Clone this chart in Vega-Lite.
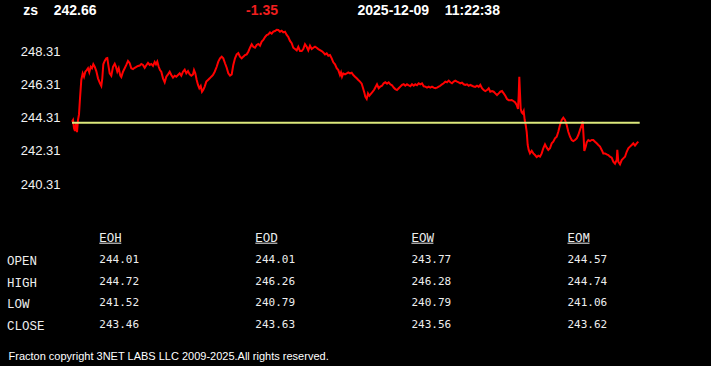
{
  "$schema": "https://vega.github.io/schema/vega-lite/v6.json",
  "width": 711,
  "height": 366,
  "autosize": "none",
  "padding": 0,
  "background": "#000000",
  "config": {
    "view": {"stroke": null},
    "axis": {"grid": false, "domain": false, "ticks": false, "tickSize": 0, "title": null}
  },
  "datasets": {
    "prices": [
      {"t":0,"price":244.08},{"t":1,"price":244.18},{"t":2,"price":243.68},{"t":3,"price":243.52},{"t":4,"price":243.98},{"t":5,"price":243.44},{"t":6,"price":244.18},{"t":7,"price":244.52},{"t":8,"price":245.49},{"t":9.3,"price":246.6},{"t":10.7,"price":247.0},{"t":12,"price":246.8},{"t":13.3,"price":247.1},{"t":14.7,"price":247.2},{"t":16,"price":247.31},{"t":17.3,"price":247.06},{"t":18.7,"price":247.4},{"t":20,"price":247.31},{"t":21.3,"price":247.55},{"t":22.7,"price":247.4},{"t":24.3,"price":247.14},{"t":26,"price":246.7},{"t":28,"price":246.4},{"t":29.3,"price":246.24},{"t":30.3,"price":246.7},{"t":31.3,"price":247.55},{"t":32.7,"price":247.75},{"t":34.3,"price":247.91},{"t":35.3,"price":247.93},{"t":36.3,"price":247.51},{"t":37.7,"price":247.0},{"t":39.3,"price":246.86},{"t":41,"price":247.4},{"t":42.7,"price":247.58},{"t":44,"price":247.39},{"t":45.3,"price":247.1},{"t":46.7,"price":247.31},{"t":48.3,"price":246.86},{"t":49.3,"price":246.78},{"t":51,"price":247.1},{"t":52.7,"price":247.31},{"t":54.3,"price":247.51},{"t":56,"price":247.75},{"t":57.7,"price":247.61},{"t":59.3,"price":247.31},{"t":61,"price":247.26},{"t":62.7,"price":247.34},{"t":64.3,"price":247.39},{"t":66,"price":247.45},{"t":67.7,"price":247.47},{"t":69.3,"price":247.57},{"t":71,"price":247.51},{"t":72.7,"price":247.34},{"t":74.3,"price":247.49},{"t":76,"price":247.63},{"t":77.7,"price":247.51},{"t":79.3,"price":247.57},{"t":81,"price":247.45},{"t":82.7,"price":247.69},{"t":84,"price":247.55},{"t":85.3,"price":247.71},{"t":86.7,"price":247.4},{"t":88,"price":247.2},{"t":89.3,"price":247.1},{"t":91,"price":246.7},{"t":92.7,"price":246.46},{"t":94.3,"price":246.8},{"t":96,"price":246.94},{"t":97.7,"price":247.1},{"t":99.3,"price":246.9},{"t":101,"price":246.74},{"t":102.7,"price":246.86},{"t":104.3,"price":246.8},{"t":106,"price":246.9},{"t":107.7,"price":247.0},{"t":109.3,"price":246.86},{"t":111,"price":247.1},{"t":112.7,"price":247.22},{"t":114.3,"price":247.0},{"t":116,"price":247.14},{"t":117.7,"price":246.94},{"t":119.3,"price":246.86},{"t":121,"price":246.94},{"t":122,"price":247.2},{"t":123.3,"price":247.0},{"t":124.7,"price":246.6},{"t":126,"price":246.3},{"t":127.3,"price":246.1},{"t":128.7,"price":246.24},{"t":130,"price":245.89},{"t":131.3,"price":246.01},{"t":132.7,"price":246.2},{"t":134.3,"price":246.5},{"t":136,"price":246.6},{"t":137.7,"price":246.7},{"t":139.3,"price":246.8},{"t":141,"price":246.9},{"t":142.7,"price":247.1},{"t":144.7,"price":247.4},{"t":146.3,"price":247.71},{"t":148,"price":247.91},{"t":149.7,"price":248.01},{"t":151.3,"price":247.91},{"t":153,"price":247.61},{"t":154.7,"price":247.34},{"t":156.3,"price":247.0},{"t":158,"price":246.86},{"t":159.7,"price":246.94},{"t":161.3,"price":247.51},{"t":163,"price":247.91},{"t":164.7,"price":248.15},{"t":166.3,"price":248.23},{"t":168,"price":248.01},{"t":169.7,"price":247.91},{"t":171.3,"price":248.01},{"t":173,"price":248.11},{"t":174.7,"price":248.15},{"t":176.3,"price":248.31},{"t":178,"price":248.55},{"t":179.7,"price":248.76},{"t":181.3,"price":248.61},{"t":183,"price":248.55},{"t":184.7,"price":248.72},{"t":186.3,"price":248.78},{"t":188,"price":248.67},{"t":189.7,"price":248.92},{"t":191.3,"price":249.02},{"t":193,"price":249.2},{"t":194.7,"price":249.32},{"t":196.3,"price":249.36},{"t":198,"price":249.48},{"t":199.7,"price":249.4},{"t":201.3,"price":249.52},{"t":203,"price":249.56},{"t":204.7,"price":249.64},{"t":206.3,"price":249.62},{"t":208,"price":249.52},{"t":209.7,"price":249.58},{"t":211.3,"price":249.48},{"t":213,"price":249.52},{"t":214.7,"price":249.32},{"t":216.3,"price":249.2},{"t":218,"price":248.96},{"t":219.7,"price":248.82},{"t":221.3,"price":248.55},{"t":223,"price":248.47},{"t":224.7,"price":248.39},{"t":226.3,"price":248.61},{"t":228,"price":248.35},{"t":229.7,"price":248.35},{"t":231.3,"price":248.47},{"t":233,"price":248.76},{"t":234.7,"price":248.61},{"t":236.3,"price":248.39},{"t":238,"price":248.67},{"t":239.7,"price":248.47},{"t":241.3,"price":248.55},{"t":243,"price":248.61},{"t":244.7,"price":248.55},{"t":246.3,"price":248.47},{"t":248,"price":248.41},{"t":249.7,"price":248.35},{"t":251.3,"price":248.27},{"t":253,"price":248.15},{"t":254.7,"price":248.21},{"t":256.3,"price":248.07},{"t":258,"price":248.11},{"t":259.7,"price":247.91},{"t":261.3,"price":247.67},{"t":263,"price":247.55},{"t":264.7,"price":247.31},{"t":266.3,"price":247.2},{"t":268,"price":246.9},{"t":269,"price":247.06},{"t":270,"price":246.8},{"t":271.3,"price":247.0},{"t":273,"price":246.94},{"t":274.7,"price":247.0},{"t":276.3,"price":247.06},{"t":278,"price":247.0},{"t":279.7,"price":247.04},{"t":281.3,"price":246.9},{"t":283,"price":246.8},{"t":284.7,"price":246.7},{"t":286.3,"price":246.6},{"t":288,"price":246.5},{"t":289.7,"price":246.38},{"t":291,"price":246.12},{"t":292.3,"price":245.85},{"t":293.3,"price":245.59},{"t":294.7,"price":245.45},{"t":296,"price":245.79},{"t":297.3,"price":245.65},{"t":299.3,"price":245.79},{"t":300.7,"price":245.89},{"t":302,"price":245.99},{"t":303.3,"price":246.14},{"t":305,"price":246.34},{"t":306.7,"price":246.1},{"t":308.3,"price":246.2},{"t":310,"price":246.25},{"t":311.7,"price":246.4},{"t":313.3,"price":246.46},{"t":315,"price":246.38},{"t":316.7,"price":246.46},{"t":318.3,"price":246.34},{"t":320,"price":246.28},{"t":321.7,"price":246.14},{"t":323.3,"price":246.05},{"t":325,"price":245.99},{"t":326.7,"price":246.1},{"t":328.3,"price":246.2},{"t":330,"price":246.3},{"t":331.7,"price":246.34},{"t":333.3,"price":246.25},{"t":335,"price":246.34},{"t":336.7,"price":246.28},{"t":338.3,"price":246.22},{"t":340,"price":246.34},{"t":341.7,"price":246.25},{"t":343.3,"price":246.34},{"t":345,"price":246.28},{"t":346.7,"price":246.4},{"t":348.3,"price":246.34},{"t":350,"price":246.4},{"t":351.7,"price":246.22},{"t":353.3,"price":246.2},{"t":355,"price":246.14},{"t":356.7,"price":246.2},{"t":358.3,"price":246.14},{"t":360,"price":246.2},{"t":361.7,"price":246.14},{"t":363.3,"price":246.1},{"t":365,"price":246.14},{"t":366.7,"price":246.2},{"t":368.3,"price":246.25},{"t":370,"price":246.34},{"t":371.7,"price":246.4},{"t":373.3,"price":246.5},{"t":375,"price":246.46},{"t":376.7,"price":246.56},{"t":378.3,"price":246.46},{"t":380,"price":246.4},{"t":381.7,"price":246.5},{"t":383.3,"price":246.56},{"t":385,"price":246.5},{"t":386.7,"price":246.46},{"t":388.3,"price":246.4},{"t":390,"price":246.44},{"t":391.7,"price":246.34},{"t":393.3,"price":246.3},{"t":395,"price":246.34},{"t":396.7,"price":246.25},{"t":398.3,"price":246.3},{"t":400,"price":246.25},{"t":401.7,"price":246.2},{"t":403.3,"price":246.18},{"t":405,"price":246.25},{"t":406.7,"price":246.18},{"t":408.3,"price":246.3},{"t":410,"price":246.1},{"t":411.7,"price":245.99},{"t":413.3,"price":245.93},{"t":415,"price":245.99},{"t":416.7,"price":246.1},{"t":418.3,"price":245.89},{"t":420,"price":245.93},{"t":421.7,"price":245.89},{"t":423.3,"price":245.79},{"t":425,"price":245.69},{"t":426.7,"price":245.79},{"t":428.3,"price":245.89},{"t":430,"price":245.93},{"t":431.7,"price":245.79},{"t":433.3,"price":245.65},{"t":435,"price":245.45},{"t":436.7,"price":245.38},{"t":438.3,"price":245.38},{"t":439.7,"price":245.39},{"t":441.3,"price":245.33},{"t":443,"price":245.25},{"t":444.7,"price":245.09},{"t":446,"price":244.85},{"t":446.7,"price":245.69},{"t":447.3,"price":246.8},{"t":448,"price":245.79},{"t":448.7,"price":244.85},{"t":449.7,"price":244.64},{"t":450.7,"price":244.58},{"t":451.7,"price":244.72},{"t":452.7,"price":244.18},{"t":453.7,"price":243.88},{"t":454.7,"price":243.47},{"t":455.7,"price":242.67},{"t":456.7,"price":242.37},{"t":458,"price":242.16},{"t":459.7,"price":242.31},{"t":461.3,"price":242.16},{"t":463,"price":242.06},{"t":464.7,"price":241.94},{"t":466.3,"price":242.02},{"t":468,"price":241.96},{"t":469.7,"price":242.16},{"t":471.3,"price":242.47},{"t":473,"price":242.71},{"t":474.7,"price":242.51},{"t":476.3,"price":242.37},{"t":478,"price":242.47},{"t":479.7,"price":242.77},{"t":481.3,"price":242.87},{"t":483,"price":243.07},{"t":484.7,"price":243.17},{"t":486.3,"price":243.47},{"t":488,"price":243.88},{"t":489.7,"price":244.18},{"t":491.3,"price":244.32},{"t":493,"price":244.18},{"t":494.7,"price":243.88},{"t":496.3,"price":243.47},{"t":498,"price":243.17},{"t":499.7,"price":242.97},{"t":501.3,"price":242.91},{"t":503,"price":242.97},{"t":504.7,"price":243.07},{"t":506.3,"price":243.27},{"t":508,"price":243.58},{"t":509.7,"price":243.88},{"t":510.7,"price":244.08},{"t":511.7,"price":243.07},{"t":512.3,"price":242.31},{"t":513.7,"price":242.57},{"t":514.7,"price":242.83},{"t":516.3,"price":242.97},{"t":518,"price":242.91},{"t":519.7,"price":242.97},{"t":521.3,"price":242.97},{"t":523,"price":242.87},{"t":524.7,"price":242.77},{"t":526.3,"price":242.67},{"t":528,"price":242.57},{"t":529.7,"price":242.37},{"t":531.3,"price":242.16},{"t":533,"price":242.16},{"t":534.7,"price":242.1},{"t":536.3,"price":242.06},{"t":538,"price":241.96},{"t":539.7,"price":241.9},{"t":541.3,"price":241.66},{"t":543,"price":241.54},{"t":544.7,"price":241.76},{"t":545.3,"price":242.37},{"t":546.3,"price":241.66},{"t":548,"price":241.5},{"t":549.7,"price":241.76},{"t":551.3,"price":241.86},{"t":553,"price":241.96},{"t":554.7,"price":242.26},{"t":556.3,"price":242.47},{"t":558,"price":242.57},{"t":559.7,"price":242.67},{"t":561.3,"price":242.77},{"t":563,"price":242.63},{"t":564.7,"price":242.77},{"t":566.3,"price":242.87}
    ],
    "reference": [{"label": "previous close", "price": 244.01}],
    "header": [
      {"slot": "quote", "text": "zs\u00a0\u00a0\u00a0\u00a0242.66"},
      {"slot": "change", "text": "-1.35"},
      {"slot": "stamp", "text": "2025-12-09\u00a0\u00a0\u00a0\u00a011:22:38"}
    ],
    "table": [
      {"metric": "OPEN", "period": "EOH", "value": "244.01"},
      {"metric": "OPEN", "period": "EOD", "value": "244.01"},
      {"metric": "OPEN", "period": "EOW", "value": "243.77"},
      {"metric": "OPEN", "period": "EOM", "value": "244.57"},
      {"metric": "HIGH", "period": "EOH", "value": "244.72"},
      {"metric": "HIGH", "period": "EOD", "value": "246.26"},
      {"metric": "HIGH", "period": "EOW", "value": "246.28"},
      {"metric": "HIGH", "period": "EOM", "value": "244.74"},
      {"metric": "LOW", "period": "EOH", "value": "241.52"},
      {"metric": "LOW", "period": "EOD", "value": "240.79"},
      {"metric": "LOW", "period": "EOW", "value": "240.79"},
      {"metric": "LOW", "period": "EOM", "value": "241.06"},
      {"metric": "CLOSE", "period": "EOH", "value": "243.46"},
      {"metric": "CLOSE", "period": "EOD", "value": "243.63"},
      {"metric": "CLOSE", "period": "EOW", "value": "243.56"},
      {"metric": "CLOSE", "period": "EOM", "value": "243.62"}
    ],
    "footer": [{"note": "Fracton copyright 3NET LABS LLC 2009-2025.All rights reserved."}]
  },
  "resolve": {
    "scale": {"x": "independent", "y": "independent", "color": "independent"},
    "axis": {"x": "independent", "y": "independent"}
  },
  "layer": [
    {
      "layer": [
        {
          "data": {"name": "prices"},
          "mark": {"type": "line", "color": "#ff0000", "strokeWidth": 2, "interpolate": "linear"},
          "encoding": {
            "x": {"field": "t", "type": "quantitative", "scale": {"domain": [0, 566.3], "range": [72, 638.3], "nice": false, "zero": false}, "axis": null},
            "y": {
              "field": "price", "type": "quantitative",
              "scale": {"domain": [240.31, 248.31], "range": [184, 51.7], "nice": false, "zero": false},
              "axis": {
                "orient": "left", "offset": -60, "values": [240.31, 242.31, 244.31, 246.31, 248.31], "format": ".2f",
                "labelPadding": 0, "labelAlign": "right", "labelBaseline": "middle",
                "labelFont": "Liberation Sans", "labelFontSize": 13, "labelColor": "#f2f2f2",
                "labelOverlap": false, "labelFlush": false, "labelBound": false
              }
            }
          }
        },
        {
          "data": {"name": "reference"},
          "mark": {"type": "rule", "color": "#dce87c", "strokeWidth": 2},
          "encoding": {
            "x": {"datum": 0, "type": "quantitative"},
            "x2": {"datum": 567.7},
            "y": {"field": "price", "type": "quantitative"}
          }
        }
      ]
    },
    {
      "data": {"name": "header"},
      "mark": {"type": "text", "font": "Liberation Sans", "fontSize": 14, "fontWeight": "bold", "align": "left", "baseline": "alphabetic"},
      "encoding": {
        "x": {"field": "slot", "type": "nominal", "scale": {"type": "point", "domain": ["quote", "gap", "change", "stamp"], "range": [23.3, 357.5], "padding": 0}, "axis": null},
        "y": {"datum": "header", "type": "nominal", "scale": {"type": "point", "range": [14, 16]}, "axis": null},
        "text": {"field": "text"},
        "color": {"field": "slot", "type": "nominal", "scale": {"domain": ["quote", "change", "stamp"], "range": ["#ffffff", "#f01e1e", "#ffffff"]}, "legend": null}
      }
    },
    {
      "data": {"name": "table"},
      "layer": [
        {
          "mark": {"type": "text", "font": "DejaVu Sans Mono", "fontSize": 11, "align": "left", "baseline": "alphabetic", "color": "#eeeeee"},
          "encoding": {
            "x": {"field": "period", "type": "nominal", "scale": {"type": "point", "domain": ["EOH", "EOD", "EOW", "EOM"], "range": [99.3, 567.5], "padding": 0}, "axis": null},
            "y": {
              "field": "metric", "type": "nominal",
              "scale": {"type": "point", "domain": ["HDR", "OPEN", "HIGH", "LOW", "CLOSE"], "range": [241.7, 327.7], "padding": 0},
              "axis": {
                "orient": "left", "values": ["OPEN", "HIGH", "LOW", "CLOSE"], "offset": 0, "labelPadding": -6.5,
                "labelAlign": "left", "labelBaseline": "alphabetic", "labelOffset": 1.3,
                "labelFont": "Liberation Mono", "labelFontSize": 12.5, "labelColor": "#eeeeee",
                "labelOverlap": false, "labelFlush": false, "labelBound": false
              }
            },
            "text": {"field": "value"}
          }
        },
        {
          "transform": [{"filter": "datum.metric === 'OPEN'"}],
          "mark": {"type": "text", "font": "Liberation Mono", "fontSize": 12.5, "align": "left", "baseline": "alphabetic", "color": "#eeeeee"},
          "encoding": {
            "x": {"field": "period", "type": "nominal"},
            "y": {"datum": "HDR", "type": "nominal"},
            "text": {"field": "period"}
          }
        },
        {
          "transform": [{"filter": "datum.metric === 'OPEN'"}],
          "mark": {"type": "rule", "color": "#eeeeee", "strokeWidth": 1, "x2Offset": 22, "yOffset": 1.5},
          "encoding": {
            "x": {"field": "period", "type": "nominal"},
            "x2": {"field": "period"},
            "y": {"datum": "HDR", "type": "nominal"}
          }
        }
      ]
    },
    {
      "data": {"name": "footer"},
      "mark": {"type": "text", "font": "Liberation Sans", "fontSize": 11, "align": "left", "baseline": "alphabetic", "color": "#ffffff"},
      "encoding": {
        "x": {"field": "note", "type": "nominal", "scale": {"type": "point", "range": [7.5, 9.5]}, "axis": null},
        "y": {"field": "note", "type": "nominal", "scale": {"type": "point", "range": [358.5, 360.5]}, "axis": null},
        "text": {"field": "note"}
      }
    }
  ]
}
